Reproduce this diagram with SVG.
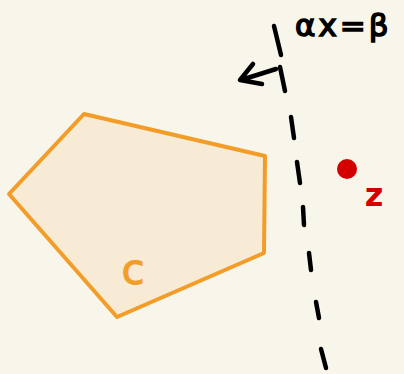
<svg xmlns="http://www.w3.org/2000/svg" width="404" height="374" viewBox="0 0 404 374">
<style>
.ink{fill:none;stroke:#000;stroke-width:4.5;stroke-linecap:round;stroke-linejoin:round}
.lbl{font-family:"DejaVu Sans",sans-serif}
</style>
<rect width="404" height="374" fill="#f8f6eb"/>
<g id="C">
<polygon points="9,194 84,114 265,156 264,253 117,317" fill="#f7ebd6" stroke="#f39c27" stroke-width="4" stroke-linejoin="round"/>
<text class="lbl" x="133" y="284" font-size="42" fill="#f39c27" stroke="#f39c27" stroke-width="1" text-anchor="middle">c</text>
</g>
<g id="z">
<circle cx="347" cy="169" r="10" fill="#d40000"/>
<text class="lbl" x="374" y="206" font-size="32" font-weight="bold" fill="#d40000" text-anchor="middle">z</text>
</g>
<g id="connectors">
<path class="ink" d="M274,26 L281,55 M280,67 L285,91 M291,117 L294,138 M297,162 L300,183 M303,207 L304,225 M309,253 L311,270 M316,302 L319,318 M321,349 L326,368"/>
<path class="ink" d="M276,69 L241,80 M253,64 L240,80 L262,84"/>
</g>
<text class="lbl" x="295" y="36" font-size="31" fill="#000" stroke="#000" stroke-width="1.5" letter-spacing="3">αx=β</text>
</svg>
